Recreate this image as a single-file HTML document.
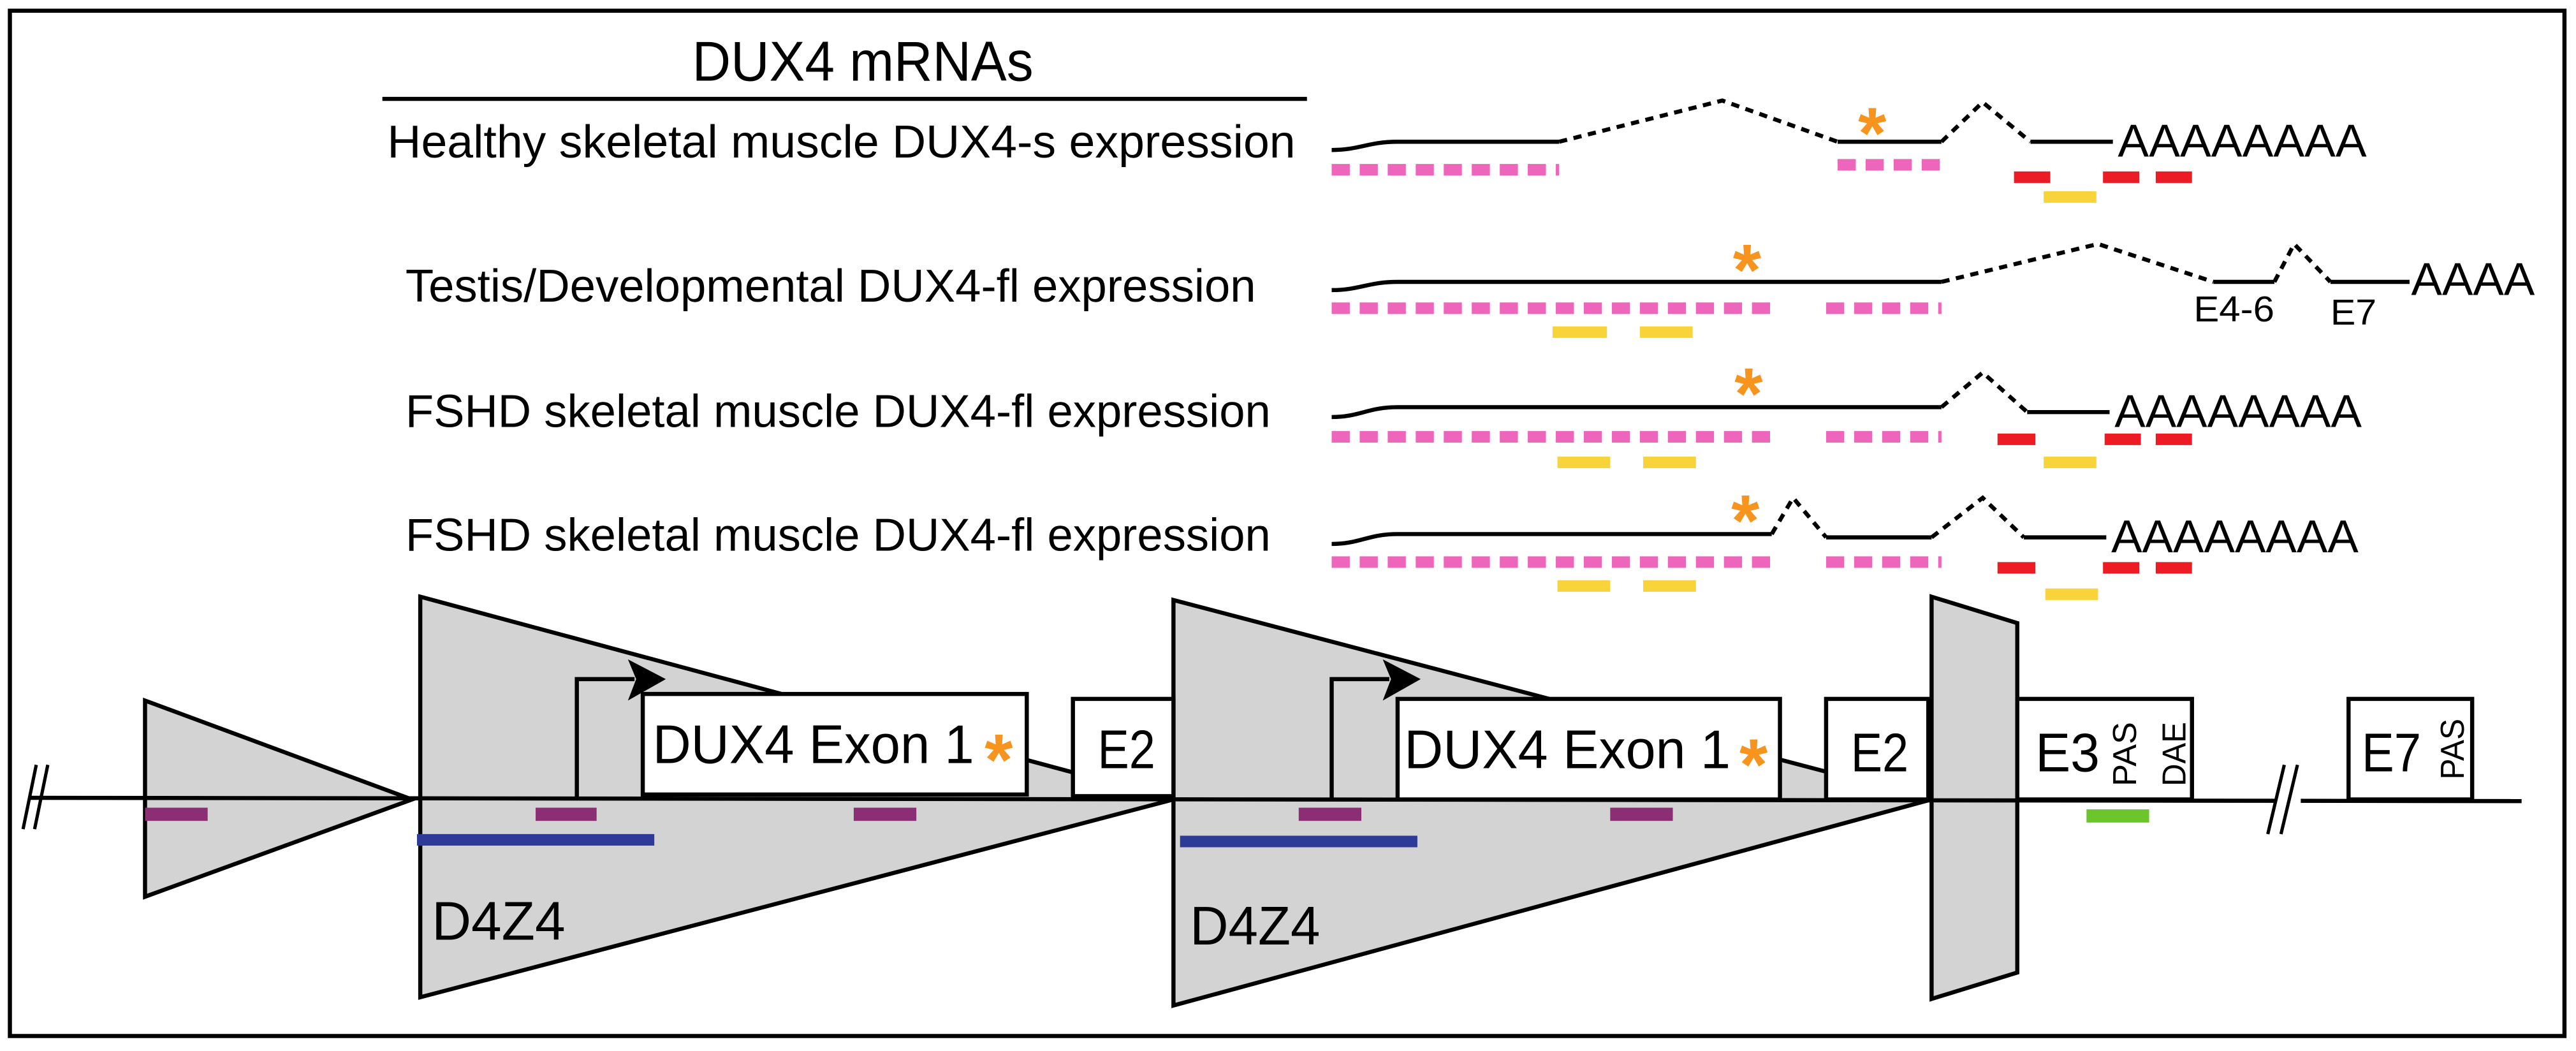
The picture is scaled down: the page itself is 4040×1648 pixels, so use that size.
<!DOCTYPE html>
<html><head><meta charset="utf-8"><style>html,body{margin:0;padding:0;background:#fff}svg{display:block}</style></head>
<body>
<svg width="4040" height="1648" viewBox="0 0 1563 637.6" preserveAspectRatio="none" xmlns="http://www.w3.org/2000/svg" font-family="Liberation Sans, sans-serif">
<rect x="0" y="0" width="1563" height="637.6" fill="#fff"/>
<rect x="6" y="6.5" width="1550" height="622" fill="none" stroke="#000" stroke-width="2.5"/>

<!-- title -->
<text x="420" y="49" font-size="34" textLength="207" lengthAdjust="spacingAndGlyphs">DUX4 mRNAs</text>
<line x1="232" y1="60" x2="793" y2="60" stroke="#000" stroke-width="2.5"/>

<g font-size="28">
<text x="235" y="95.5" textLength="551" lengthAdjust="spacingAndGlyphs">Healthy skeletal muscle DUX4-s expression</text>
<text x="246" y="183" textLength="516" lengthAdjust="spacingAndGlyphs">Testis/Developmental DUX4-fl expression</text>
<text x="246" y="259" textLength="525" lengthAdjust="spacingAndGlyphs">FSHD skeletal muscle DUX4-fl expression</text>
<text x="246" y="334" textLength="525" lengthAdjust="spacingAndGlyphs">FSHD skeletal muscle DUX4-fl expression</text>
</g>

<g stroke="#000" stroke-width="2.5" fill="none">
<path d="M808,91 C825,91 830,86 848,86 L946,86"/>
<path d="M946,86 L1045,61 L1115,86" stroke-dasharray="5,4"/>
<path d="M1115,86 L1178,86"/>
<path d="M1178,86 L1203,62 L1232,86" stroke-dasharray="5,4"/>
<path d="M1232,86 L1282,86"/>
<path d="M808,176 C825,176 830,171 848,171 L1178,171"/>
<path d="M1178,171 L1273,148 L1343,171" stroke-dasharray="5,4"/>
<path d="M1343,171 L1380,171"/>
<path d="M1380,171 L1392,148 L1414,171" stroke-dasharray="5,4"/>
<path d="M1414,171 L1462,171"/>
<path d="M808,253 C825,253 830,247 848,247 L1178,247"/>
<path d="M1178,247 L1203,226 L1230,250" stroke-dasharray="5,4"/>
<path d="M1230,250 L1280,250"/>
<path d="M808,330 C825,330 830,324 848,324 L1075,324"/>
<path d="M1075,324 L1088,302 L1108,326" stroke-dasharray="5,4"/>
<path d="M1108,326 L1172,326"/>
<path d="M1172,326 L1203,302 L1228,326" stroke-dasharray="5,4"/>
<path d="M1228,326 L1278,326"/>
</g>

<g font-size="28">
<text x="1285" y="95" textLength="151" lengthAdjust="spacingAndGlyphs">AAAAAAAA</text>
<text x="1463" y="179" textLength="75" lengthAdjust="spacingAndGlyphs">AAAA</text>
<text x="1283" y="259" textLength="150" lengthAdjust="spacingAndGlyphs">AAAAAAAA</text>
<text x="1281" y="335" textLength="150" lengthAdjust="spacingAndGlyphs">AAAAAAAA</text>
</g>
<text x="1331" y="195" font-size="22" textLength="49" lengthAdjust="spacingAndGlyphs">E4-6</text>
<text x="1414" y="197" font-size="22" textLength="28" lengthAdjust="spacingAndGlyphs">E7</text>

<g fill="#f7941d" font-size="44" font-weight="bold" text-anchor="middle">
<text x="1136" y="96">*</text>
<text x="1060" y="179">*</text>
<text x="1061" y="254">*</text>
<text x="1059" y="331">*</text>
</g>

<g stroke="#ee66bb" stroke-width="7" stroke-dasharray="11,6">
<line x1="808" y1="103" x2="946" y2="103"/>
<line x1="1115" y1="100" x2="1178" y2="100"/>
<line x1="808" y1="187" x2="1075" y2="187"/>
<line x1="1108" y1="187" x2="1178" y2="187"/>
<line x1="808" y1="265" x2="1075" y2="265"/>
<line x1="1108" y1="265" x2="1178" y2="265"/>
<line x1="808" y1="341" x2="1075" y2="341"/>
<line x1="1108" y1="341" x2="1178" y2="341"/>
</g>
<g fill="#ed1c24">
<rect x="1222" y="104" width="22" height="7"/><rect x="1276" y="104" width="22" height="7"/><rect x="1308" y="104" width="22" height="7"/>
<rect x="1212" y="263" width="23" height="7"/><rect x="1277" y="263" width="22" height="7"/><rect x="1308" y="263" width="22" height="7"/>
<rect x="1212" y="341" width="23" height="7"/><rect x="1276" y="341" width="22" height="7"/><rect x="1308" y="341" width="22" height="7"/>
</g>
<g fill="#f9d33a">
<rect x="1240" y="116" width="32" height="7"/>
<rect x="942" y="198" width="33" height="7"/><rect x="995" y="198" width="32" height="7"/>
<rect x="945" y="277" width="32" height="7"/><rect x="997" y="277" width="32" height="7"/><rect x="1240" y="277" width="32" height="7"/>
<rect x="945" y="352" width="32" height="7"/><rect x="997" y="352" width="32" height="7"/><rect x="1241" y="357" width="32" height="7"/>
</g>

<g stroke="#000" stroke-width="2.5" fill="#d3d3d3">
<polygon points="88,425 250,485 88,544"/>
<polygon points="255,362 712,485 255,605"/>
<polygon points="712,364 1172,485 712,610"/>
<polygon points="1172,362 1224,378 1224,590 1172,606"/>
</g>
<line x1="18" y1="484" x2="1530" y2="486" stroke="#000" stroke-width="2.5"/>
<rect x="1380" y="478" width="16" height="14" fill="#fff"/>
<g stroke="#000" stroke-width="2">
<line x1="14" y1="503" x2="22" y2="464"/><line x1="21" y1="503" x2="29" y2="464"/>
<line x1="1376" y1="506" x2="1386" y2="464"/><line x1="1384" y1="506" x2="1394" y2="464"/>
</g>

<g stroke="#000" stroke-width="2.5" fill="#fff">
<rect x="390" y="421" width="233" height="61"/>
<rect x="651" y="424" width="61" height="59"/>
<rect x="848" y="424" width="232" height="61"/>
<rect x="1108" y="424" width="62" height="61"/>
<rect x="1224" y="424" width="106" height="61"/>
<rect x="1425" y="424" width="75" height="61"/>
</g>
<g font-size="33">
<text x="396" y="463" textLength="195" lengthAdjust="spacingAndGlyphs">DUX4 Exon 1</text>
<text x="852" y="466" textLength="198" lengthAdjust="spacingAndGlyphs">DUX4 Exon 1</text>
<text x="666" y="466" textLength="35" lengthAdjust="spacingAndGlyphs">E2</text>
<text x="1123" y="468" textLength="35" lengthAdjust="spacingAndGlyphs">E2</text>
<text x="1235" y="468" textLength="39" lengthAdjust="spacingAndGlyphs">E3</text>
<text x="1433" y="468" textLength="36" lengthAdjust="spacingAndGlyphs">E7</text>
</g>
<g font-size="20">
<text transform="translate(1296,477) rotate(-90)" textLength="39" lengthAdjust="spacingAndGlyphs">PAS</text>
<text transform="translate(1326,477) rotate(-90)" textLength="39" lengthAdjust="spacingAndGlyphs">DAE</text>
<text transform="translate(1495,473) rotate(-90)" textLength="37" lengthAdjust="spacingAndGlyphs">PAS</text>
</g>
<g fill="#f7941d" font-size="44" font-weight="bold" text-anchor="middle">
<text x="606" y="476">*</text>
<text x="1064" y="479">*</text>
</g>

<g stroke="#000" stroke-width="2.5" fill="none">
<path d="M350,485 L350,412 L385,412"/>
<path d="M808,485 L808,412 L843,412"/>
</g>
<polygon points="381,400 404,412 381,425 386,412" fill="#000"/>
<polygon points="839,400 862,412 839,425 844,412" fill="#000"/>

<g fill="#8b2e74">
<rect x="88" y="490" width="38" height="8"/><rect x="325" y="490" width="37" height="8"/><rect x="518" y="490" width="38" height="8"/>
<rect x="788" y="490" width="38" height="8"/><rect x="977" y="490" width="38" height="8"/>
</g>
<g fill="#2e3a97">
<rect x="253" y="506" width="144" height="7"/><rect x="716" y="507" width="144" height="7"/>
</g>
<rect x="1266" y="491" width="38" height="8" fill="#6cc52a"/>

<g font-size="33">
<text x="262" y="570" textLength="81" lengthAdjust="spacingAndGlyphs">D4Z4</text>
<text x="722" y="573" textLength="79" lengthAdjust="spacingAndGlyphs">D4Z4</text>
</g>
</svg>
</body></html>
